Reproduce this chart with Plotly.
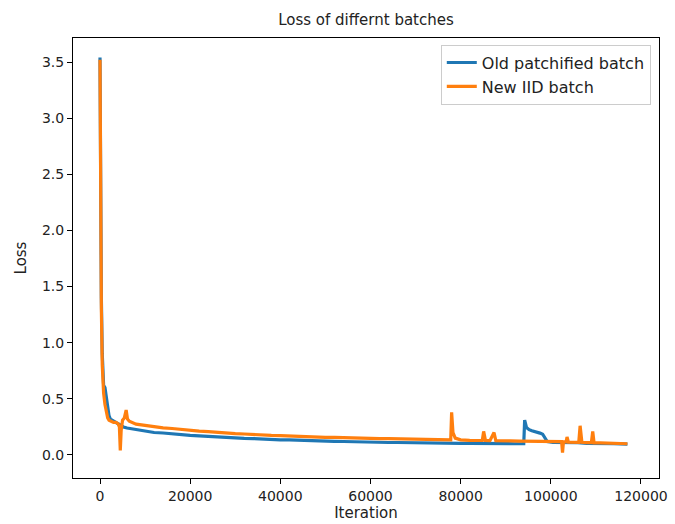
import plotly.graph_objects as go

# Training loss, old patchified batching
old_iter = [0, 150, 300, 500, 800, 1100, 1400, 1700, 2000, 2300, 2700, 3200, 3800,
            4500, 5200,
            6000, 8000, 10000, 12000, 14000, 16000, 18000, 20000, 22000, 24000,
            26000, 28000, 30000, 32000, 34000, 36000, 38000, 40000, 42000, 44000,
            46000, 48000, 50000, 52000, 54000, 56000, 58000, 60000, 62000, 64000,
            66000, 68000, 70000, 72000, 74000, 76000, 78000, 80000, 82000, 84000,
            86000, 88000, 90000, 92000, 94000,
            94200, 94600, 95200, 95800, 96400, 97000, 97600, 98200, 98600, 99200,
            100500, 102000, 104000, 106000, 108000, 110000, 112000, 114000, 117000]
old_loss = [3.54, 2.3, 1.4, 0.9, 0.62, 0.6, 0.5, 0.42, 0.35, 0.32, 0.31, 0.3, 0.29,
            0.27, 0.25,
            0.24, 0.226, 0.214, 0.2, 0.196, 0.187, 0.183, 0.175, 0.171, 0.165,
            0.162, 0.156, 0.153, 0.148, 0.146, 0.141, 0.139, 0.135, 0.134, 0.13,
            0.129, 0.125, 0.124, 0.121, 0.12, 0.117, 0.117, 0.114, 0.114, 0.111,
            0.111, 0.109, 0.109, 0.107, 0.107, 0.105, 0.105, 0.103, 0.104, 0.102,
            0.103, 0.101, 0.102, 0.1, 0.101,
            0.31, 0.245, 0.225, 0.215, 0.21, 0.2, 0.195, 0.185, 0.16, 0.12,
            0.112, 0.113, 0.108, 0.109, 0.104, 0.105, 0.1, 0.101, 0.096]

# Training loss, new IID batching
new_iter = [0, 150, 300, 500, 800, 1100, 1400, 1700, 2000, 2500, 3000, 3500, 4000,
            4300, 4500, 4700, 5000, 5400, 5800, 6100, 6500,
            8000, 10000, 12000, 14000, 16000, 18000, 20000, 22000, 24000, 26000,
            28000, 30000, 32000, 34000, 36000, 38000, 40000, 42000, 44000, 46000,
            48000, 50000, 52000, 54000, 56000, 58000, 60000, 62000, 64000, 66000,
            68000, 70000, 72000, 74000, 76000,
            77800, 78000, 78300, 78800, 80000, 82000, 84000, 84800, 85100, 85500,
            86500, 87400, 87800, 89000, 91000, 93000, 95000, 97000, 99000, 101000,
            102400, 102600, 102800, 103400, 103600, 103900, 105000, 106200, 106500,
            106900, 108000, 109000, 109300, 109600, 111000, 113000, 115000, 117000]
new_loss = [3.52, 2.2, 1.3, 0.8, 0.55, 0.45, 0.38, 0.33, 0.31, 0.3, 0.29, 0.29, 0.28,
            0.25, 0.04, 0.22, 0.31, 0.33, 0.4, 0.32, 0.3,
            0.275, 0.262, 0.252, 0.242, 0.236, 0.226, 0.222, 0.212, 0.208, 0.2,
            0.196, 0.19, 0.187, 0.181, 0.179, 0.174, 0.172, 0.168, 0.166, 0.162,
            0.161, 0.157, 0.156, 0.153, 0.152, 0.149, 0.148, 0.146, 0.145, 0.143,
            0.142, 0.14, 0.14, 0.138, 0.137,
            0.135, 0.38, 0.2, 0.15, 0.135, 0.131, 0.131, 0.129, 0.21, 0.13,
            0.128, 0.2, 0.128, 0.125, 0.125, 0.123, 0.123, 0.121, 0.121, 0.119,
            0.119, 0.02, 0.117, 0.117, 0.16, 0.115, 0.115, 0.113, 0.26,
            0.113, 0.11, 0.11, 0.21, 0.108, 0.107, 0.104, 0.103, 0.1]

x_ticks = [0, 20000, 40000, 60000, 80000, 100000, 120000]
y_ticks = [0.0, 0.5, 1.0, 1.5, 2.0, 2.5, 3.0, 3.5]

font = "DejaVu Sans, Liberation Sans, sans-serif"

fig = go.Figure()
fig.add_trace(go.Scatter(x=old_iter, y=old_loss, mode="lines", name="Old patchified batch",
                         line=dict(color="#1f77b4", width=3.2)))
fig.add_trace(go.Scatter(x=new_iter, y=new_loss, mode="lines", name="New IID batch",
                         line=dict(color="#ff7f0e", width=3.2)))

axis_common = dict(showgrid=False, zeroline=False, showline=True, linecolor="black",
                   linewidth=1, mirror=True, ticks="outside", ticklen=5, tickcolor="black",
                   automargin=False,
                   tickfont=dict(family=font, size=14, color="#222"))

fig.update_layout(
    width=675, height=524,
    margin=dict(l=73, r=16, t=38, b=46),
    paper_bgcolor="white", plot_bgcolor="white",
    font=dict(family=font, size=14, color="#222"),
    title=dict(text="Loss of differnt batches", x=0.5, xref="paper",
               y=1 - 20 / 524, yref="container", yanchor="middle",
               font=dict(size=15, color="#222")),
    xaxis=dict(range=[-5990, 124000], tickvals=x_ticks, tickformat="d",
               title=dict(text="Iteration", standoff=3, font=dict(size=15)),
               **axis_common),
    yaxis=dict(range=[-0.205, 3.714], tickvals=y_ticks, tickformat=".1f",
               title=dict(text="Loss", standoff=11, font=dict(size=15)),
               **axis_common),
    legend=dict(x=0.986, y=0.985, xanchor="right", yanchor="top",
                bgcolor="rgba(255,255,255,0.8)", bordercolor="#cccccc", borderwidth=1,
                font=dict(size=16, color="#222"), tracegroupgap=0),
    showlegend=True,
)

fig.write_html("out.html")
